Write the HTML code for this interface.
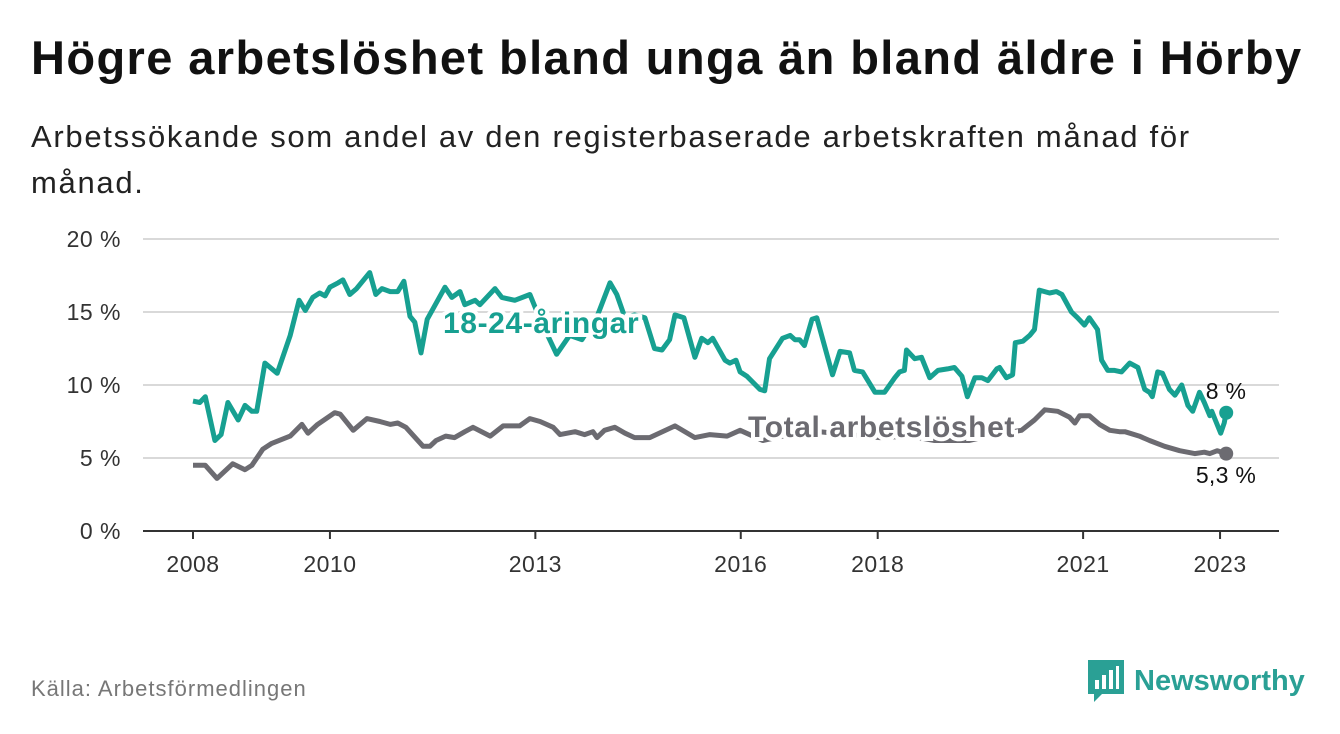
<!DOCTYPE html>
<html><head><meta charset="utf-8"><style>
body{margin:0;width:1340px;height:734px;background:#fff;font-family:"Liberation Sans",sans-serif;overflow:hidden;position:relative}
#title{position:absolute;left:31px;top:30px;font-size:47px;font-weight:bold;color:#111;letter-spacing:1.4px;white-space:nowrap}
#sub{position:absolute;left:31px;top:114px;font-size:31px;color:#222;line-height:46px;width:1200px;letter-spacing:1.7px}
#src{position:absolute;left:31px;top:676px;font-size:22px;color:#777;letter-spacing:1px}
#logo{position:absolute;left:1088px;top:660px;display:flex;align-items:center}
#logo span{font-size:29px;font-weight:bold;color:#2aa095;margin-left:10px}
svg text{font-family:"Liberation Sans",sans-serif}
</style></head><body>
<div id="title">Högre arbetslöshet bland unga än bland äldre i Hörby</div>
<div id="sub">Arbetssökande som andel av den registerbaserade arbetskraften månad för månad.</div>
<svg id="chart" width="1340" height="734" style="position:absolute;left:0;top:0"></svg>
<div id="src">Källa: Arbetsförmedlingen</div>
<div id="logo">
<svg width="36" height="42" viewBox="0 0 36 42"><path d="M0 0H36V34H14L6 42V34H0Z" fill="#2aa095"/><rect x="7" y="20" width="4" height="9" fill="#fff"/><rect x="14" y="15" width="4" height="14" fill="#fff"/><rect x="21" y="10" width="4" height="19" fill="#fff"/><rect x="28" y="6" width="3" height="23" fill="#fff"/></svg>
<span>Newsworthy</span></div>
<script>
const youthDates=[2008.00,2008.10,2008.18,2008.32,2008.41,2008.51,2008.66,2008.76,2008.86,2008.93,2009.05,2009.23,2009.42,2009.55,2009.64,2009.75,2009.85,2009.93,2010.00,2010.12,2010.19,2010.29,2010.39,2010.58,2010.67,2010.76,2010.88,2010.99,2011.08,2011.17,2011.24,2011.33,2011.42,2011.68,2011.78,2011.90,2011.97,2012.12,2012.19,2012.41,2012.51,2012.70,2012.92,2013.07,2013.31,2013.50,2013.68,2013.91,2014.09,2014.19,2014.31,2014.45,2014.60,2014.74,2014.85,2014.96,2015.04,2015.17,2015.33,2015.43,2015.52,2015.59,2015.77,2015.84,2015.93,2015.99,2016.09,2016.28,2016.35,2016.42,2016.61,2016.72,2016.79,2016.86,2016.93,2017.04,2017.11,2017.34,2017.45,2017.59,2017.66,2017.78,2017.96,2018.10,2018.25,2018.32,2018.39,2018.42,2018.54,2018.64,2018.76,2018.88,2019.02,2019.12,2019.23,2019.31,2019.42,2019.52,2019.61,2019.74,2019.78,2019.88,2019.97,2020.01,2020.12,2020.22,2020.29,2020.36,2020.51,2020.61,2020.69,2020.83,2020.92,2021.02,2021.09,2021.21,2021.27,2021.36,2021.46,2021.56,2021.68,2021.80,2021.90,2021.97,2022.01,2022.09,2022.16,2022.26,2022.34,2022.44,2022.53,2022.60,2022.70,2022.77,2022.85,2022.88,2022.93,2023.01,2023.06,2023.09];
const youthValues=[8.9,8.8,9.2,6.2,6.6,8.8,7.6,8.6,8.2,8.2,11.5,10.8,13.4,15.8,15.1,16.0,16.3,16.1,16.7,17.0,17.2,16.2,16.6,17.7,16.2,16.6,16.4,16.4,17.1,14.7,14.3,12.2,14.5,16.7,16.0,16.4,15.5,15.8,15.5,16.6,16.0,15.8,16.2,14.5,12.1,13.4,13.1,14.8,17.0,16.2,14.6,14.8,14.6,12.5,12.4,13.1,14.8,14.6,11.9,13.2,12.9,13.2,11.7,11.5,11.7,10.9,10.6,9.7,9.6,11.8,13.2,13.4,13.1,13.1,12.7,14.5,14.6,10.7,12.3,12.2,11.0,10.9,9.5,9.5,10.5,10.9,11.0,12.4,11.8,11.9,10.5,11.0,11.1,11.2,10.6,9.2,10.5,10.5,10.3,11.1,11.2,10.5,10.7,12.9,13.0,13.4,13.8,16.5,16.3,16.4,16.2,15.0,14.6,14.1,14.6,13.8,11.7,11.0,11.0,10.9,11.5,11.2,9.7,9.5,9.2,10.9,10.8,9.7,9.3,10.0,8.6,8.2,9.5,8.8,7.9,8.2,7.6,6.7,7.4,8.1];
const totalDates=[2008.00,2008.18,2008.35,2008.58,2008.76,2008.86,2009.02,2009.15,2009.42,2009.59,2009.68,2009.82,2010.07,2010.15,2010.34,2010.54,2010.73,2010.88,2010.99,2011.11,2011.36,2011.46,2011.55,2011.69,2011.82,2011.97,2012.09,2012.34,2012.53,2012.77,2012.92,2013.07,2013.26,2013.36,2013.58,2013.72,2013.84,2013.90,2014.01,2014.16,2014.31,2014.45,2014.67,2015.04,2015.33,2015.55,2015.80,2015.99,2016.32,2016.72,2017.15,2017.59,2018.03,2018.47,2018.83,2019.34,2019.71,2020.10,2020.29,2020.44,2020.63,2020.80,2020.88,2020.95,2021.09,2021.24,2021.39,2021.53,2021.61,2021.82,2021.97,2022.19,2022.41,2022.63,2022.77,2022.85,2022.96,2023.09];
const totalValues=[4.5,4.5,3.6,4.6,4.2,4.5,5.6,6.0,6.5,7.3,6.7,7.3,8.1,8.0,6.9,7.7,7.5,7.3,7.4,7.1,5.8,5.8,6.2,6.5,6.4,6.8,7.1,6.5,7.2,7.2,7.7,7.5,7.1,6.6,6.8,6.6,6.8,6.4,6.9,7.1,6.7,6.4,6.4,7.2,6.4,6.6,6.5,6.9,6.2,6.6,6.8,6.6,6.4,6.5,6.2,6.2,6.6,6.9,7.6,8.3,8.2,7.8,7.4,7.9,7.9,7.3,6.9,6.8,6.8,6.5,6.2,5.8,5.5,5.3,5.4,5.3,5.5,5.3];
const yTicks=[0,5,10,15,20];
const xTicks=[2008,2010,2013,2016,2018,2021,2023];
const NS='http://www.w3.org/2000/svg';
const svg=document.getElementById('chart');
const x=v=>193+(v-2008)*68.47;
const y=v=>531-v*14.6;
function mk(t,a){const e=document.createElementNS(NS,t);for(const k in a)e.setAttribute(k,a[k]);svg.appendChild(e);return e;}
yTicks.forEach(t=>{
  if(t>0){const g=mk('line',{x1:143,x2:1279,y1:y(t),y2:y(t),stroke:'#d9d9d9','stroke-width':2});
  
  }
  const l=mk('text',{x:121,y:y(t)+8,'text-anchor':'end','font-size':23,fill:'#333','letter-spacing':0.5});
  
  
  l.textContent=t+' %';
});
const ax=mk('line',{x1:143,x2:1279,y1:531,y2:531,stroke:'#333','stroke-width':2});


xTicks.forEach(t=>{
  const tk=mk('line',{x1:x(t),x2:x(t),y1:531,y2:539,stroke:'#333','stroke-width':2});
  
  
  const l=mk('text',{x:x(t),y:572,'text-anchor':'middle','font-size':23,fill:'#333','letter-spacing':0.5});
  
  
  l.textContent=t;
});
function line(d,v,c,name){
  const p=mk('path',{d:d.map((t,i)=>(i?'L':'M')+x(t).toFixed(1)+','+y(v[i]).toFixed(1)).join(''),fill:'none',stroke:c,'stroke-width':5,'stroke-linejoin':'round'});
  
  
  const n=d.length-1;
  const dot=mk('circle',{cx:x(d[n]),cy:y(v[n]),r:7,fill:c});
  
  
}
line(totalDates,totalValues,'#6c6b71','total-line');
line(youthDates,youthValues,'#17a091','youth-line');
function lab(tx,xx,yy,c,name,sz,bold,anchor){
  const t=mk('text',{x:xx,y:yy,'font-size':sz,'font-weight':bold?'bold':'normal',fill:c,stroke:'#fff','stroke-width':bold?8:0,'paint-order':'stroke','text-anchor':anchor||'start','letter-spacing':bold?0.6:0.3});
  
  
  t.textContent=tx;
}
lab('18-24-åringar',443,333,'#17a091','youth-series-label',30,true);
lab('Total arbetslöshet',748,437,'#6c6b71','total-series-label',30,true);
const ny=youthValues.length-1, nt=totalValues.length-1;
lab(youthValues[ny].toFixed(0)+' %',1226,399,'#111','youth-end-value',23,false,'middle');
lab(totalValues[nt].toFixed(1).replace('.',',')+' %',1226,483,'#111','total-end-value',23,false,'middle');
</script>
</body></html>
